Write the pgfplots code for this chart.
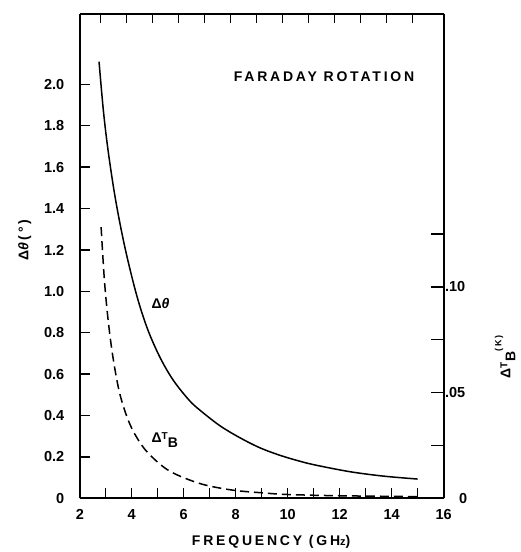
\documentclass[border=0pt]{standalone}
\usepackage{pgfplots}
\pgfplotsset{compat=1.18}
\usepackage{fontspec}
\setmainfont{Liberation Sans}

% faraday rotation and brightness temperature change vs frequency
\pgfplotstableread{
f     dtheta
2.74  2.11
2.91  1.87
3.10  1.67
3.38  1.44
3.74  1.21
4.18  0.985
4.60  0.820
5.09  0.680
5.60  0.570
6.20  0.475
6.63  0.425
7.40  0.350
8.17  0.292
8.95  0.243
9.72  0.207
10.50 0.178
11.13 0.159
12.42 0.128
13.70 0.107
15.00 0.093
}\thetatable

\pgfplotstableread{
f     dtb
2.82  0.1282
2.95  0.1027
3.10  0.0832
3.29  0.0656
3.55  0.0489
3.94  0.0347
4.45  0.0240
5.09  0.0161
5.67  0.0115
6.70  0.0067
7.86  0.0039
9.00  0.0026
10.00 0.0018
12.00 0.0012
15.00 0.0008
}\tbtable

\newcommand{\lbl}{\fontsize{14}{16}\selectfont\bfseries\addfontfeature{LetterSpace=20}}

\begin{document}
\begin{tikzpicture}
\path[use as bounding box] (-79.8pt,-53.7pt) rectangle (440.2pt,498.3pt);

\pgfplotsset{
  common/.style={
    at={(0,0)}, anchor=south west,
    scale only axis, width=363.8pt, height=484.3pt,
    xmin=2, xmax=16,
    axis line style={line width=1.9pt},
    tick align=inside,
    tick style={line width=1.4pt, black},
    minor tick num=0,
    ticklabel style={font=\fontsize{14.5}{16}\selectfont\bfseries},
    /pgf/number format/assume math mode=true,
    clip=false,
  }
}

% left and bottom
\begin{axis}[common,
  ymin=0, ymax=2.34,
  axis x line*=bottom, axis y line*=left,
  major tick length=10pt,
  xtick={2,...,16},
  xticklabels={2,,4,,6,,8,,10,,12,,14,,16},
  ytick={0,0.2,0.4,0.6,0.8,1.0,1.2,1.4,1.6,1.8,2.0},
  yticklabels={0,0.2,0.4,0.6,0.8,1.0,1.2,1.4,1.6,1.8,2.0},
  xticklabel style={yshift=-8pt},
  yticklabel style={xshift=-12pt},
]
\addplot[black, line width=1.5pt, smooth, tension=0.55] table[x=f, y=dtheta] {\thetatable};

\node[anchor=base west] at (axis cs:7.79,2.016) {\lbl FARADAY ROTATION};
\node[anchor=base west] at (axis cs:4.63,0.915) {\lbl Δ\textit{θ}};
\node[anchor=base west] at (axis cs:4.63,0.272)
  {\lbl Δ\raisebox{3pt}{\fontsize{10}{12}\selectfont T}\raisebox{-5pt}{B}};

\node at (axis description cs:0.526,-0.090) {\lbl FREQUENCY (GH{\fontsize{11}{12}\selectfont z})};
\node[rotate=90] at (axis description cs:-0.151,0.533) {\lbl Δ\textit{θ}(°)};
\node[rotate=90] at (axis description cs:1.169,0.292)
  {\lbl Δ\raisebox{3pt}{\fontsize{10}{12}\selectfont T}\raisebox{-5pt}{B}\raisebox{9pt}{\fontsize{9}{10}\selectfont (K)}};
\end{axis}

% right axis, brightness temperature
\begin{axis}[common,
  ymin=0, ymax=0.229,
  axis x line=none, axis y line*=right,
  major tick length=13pt,
  ytick={0,0.025,0.05,0.075,0.1,0.125},
  yticklabels={\hspace{14pt}0,,.05,,.10,},
  yticklabel style={xshift=-2pt},
]
\addplot[black, line width=1.5pt, dash pattern=on 9pt off 5pt, smooth, tension=0.55]
  table[x=f, y=dtb] {\tbtable};
\end{axis}

% top ticks
\begin{axis}[common,
  ymin=0, ymax=2.34,
  axis x line*=top, axis y line=none,
  major tick length=9pt,
  xtick={2.8,3.8,4.8,5.8,6.8,7.8,8.8,9.8,10.8,11.8,12.8,13.8,14.8},
  xticklabels={},
]
\end{axis}
\end{tikzpicture}
\end{document}
